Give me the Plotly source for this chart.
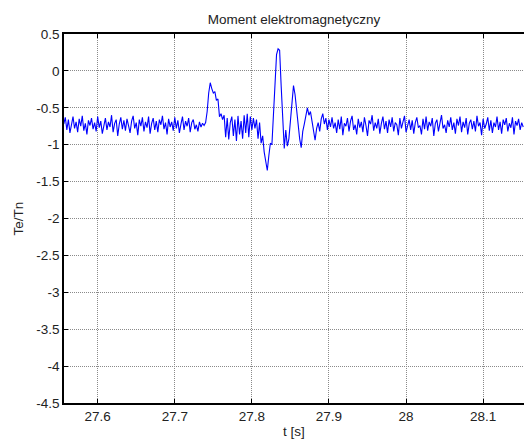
import plotly.graph_objects as go

# Sampling grid
t_start = 27.556
dt = 0.002

# Signal Te/Tn
seg_before = [
    -0.72,-0.63,-0.80,-0.66,-0.84,-0.70,-0.62,-0.78,-0.69,-0.83,
    -0.65,-0.75,-0.61,-0.81,-0.71,-0.86,-0.67,-0.74,-0.64,-0.79,
    -0.70,-0.82,-0.62,-0.77,-0.68,-0.85,-0.73,-0.64,-0.80,-0.69,
    -0.76,-0.60,-0.83,-0.71,-0.66,-0.88,-0.72,-0.63,-0.79,-0.67,
    -0.81,-0.65,-0.74,-0.84,-0.68,-0.61,-0.78,-0.70,-0.87,-0.66,
    -0.75,-0.63,-0.82,-0.69,-0.77,-0.62,-0.85,-0.71,-0.64,-0.80,
    -0.68,-0.83,-0.66,-0.73,-0.61,-0.79,-0.70,-0.86,-0.65,-0.76,
    -0.69,-0.81,-0.63,-0.78,-0.67,-0.84,-0.72,-0.62,-0.80,-0.68,
    -0.75,-0.64,-0.83,-0.70,-0.66,-0.79,-0.73,-0.82,-0.69,-0.76,
    -0.71,-0.74,-0.70,
]
seg_event = [
    -0.55,-0.30,-0.16,-0.24,-0.30,-0.28,-0.40,-0.38,-0.62,-0.58,
    -0.66,-0.60,-0.90,-0.64,-0.93,-0.70,-0.62,-0.88,-0.66,-0.95,
    -0.61,-0.86,-0.68,-0.92,-0.60,-0.84,-0.58,-0.90,-0.62,-0.80,
    -0.64,-0.78,-0.66,-0.92,-0.70,-0.98,-0.88,-1.10,-1.25,-1.35,
    -1.15,-0.98,-1.00,-0.60,-0.10,0.22,0.30,0.28,-0.20,-0.75,
    -1.05,-0.80,-1.02,-0.92,-0.70,-0.45,-0.20,-0.32,-0.55,-0.78,
    -0.92,-1.04,-0.82,-0.72,-0.62,-0.50,-0.60,-0.55,-0.68,-0.80,
    -0.94,-0.78,-0.70,-0.82,-0.65,-0.58,-0.72,-0.64,-0.80,-0.66,
    -0.76,-0.63,-0.78,
]
seg_after = [
    -0.70,-0.84,-0.66,-0.79,-0.62,-0.87,-0.71,-0.75,-0.64,-0.82,
    -0.68,-0.61,-0.80,-0.73,-0.86,-0.65,-0.77,-0.69,-0.83,-0.63,
    -0.74,-0.88,-0.67,-0.72,-0.60,-0.81,-0.70,-0.78,-0.65,-0.85,
    -0.71,-0.62,-0.79,-0.68,-0.84,-0.66,-0.76,-0.63,-0.82,-0.70,
    -0.73,-0.87,-0.64,-0.78,-0.69,-0.61,-0.83,-0.72,-0.66,-0.80,
    -0.67,-0.85,-0.70,-0.63,-0.77,-0.74,-0.86,-0.65,-0.79,-0.62,
    -0.81,-0.69,-0.75,-0.64,-0.88,-0.71,-0.66,-0.82,-0.68,-0.60,
    -0.78,-0.73,-0.84,-0.67,-0.76,-0.63,-0.80,-0.70,-0.85,-0.65,
    -0.74,-0.62,-0.83,-0.69,-0.77,-0.64,-0.86,-0.71,-0.66,-0.79,
    -0.68,-0.82,-0.61,-0.75,-0.70,-0.87,-0.65,-0.78,-0.72,-0.63,
    -0.81,-0.67,-0.84,-0.70,-0.76,-0.62,-0.80,-0.69,-0.85,-0.66,
    -0.73,-0.64,-0.82,-0.71,-0.77,-0.63,-0.86,-0.68,-0.74,-0.65,
    -0.80,-0.70,-0.76,
]
te_tn = seg_before + seg_event + seg_after
t = [t_start + dt * i for i in range(len(te_tn))]

x_ticks = [27.6, 27.7, 27.8, 27.9, 28.0, 28.1]
x_tick_labels = ["27.6", "27.7", "27.8", "27.9", "28", "28.1"]
y_ticks = [0.5, 0, -0.5, -1, -1.5, -2, -2.5, -3, -3.5, -4, -4.5]
y_tick_labels = ["0.5", "0", "-0.5", "-1", "-1.5", "-2", "-2.5", "-3", "-3.5", "-4", "-4.5"]

font = "Liberation Sans, Arial, sans-serif"

fig = go.Figure()
fig.add_trace(go.Scatter(x=t, y=te_tn, mode="lines",
                         line=dict(color="#0000ff", width=1.1), showlegend=False))

fig.update_layout(
    width=524, height=441,
    margin=dict(l=64, r=0, t=34, b=38),
    paper_bgcolor="white", plot_bgcolor="white",
    font=dict(family=font, size=13.5, color="#222"),
    title=dict(text="Moment elektromagnetyczny", x=0.5, xref="paper",
               y=1 - 19 / 441, yref="container", yanchor="middle",
               font=dict(family=font, size=13.5, color="#222")),
)
fig.update_xaxes(
    range=[27.5563, 28.153], tickvals=x_ticks, ticktext=x_tick_labels,
    showgrid=True, gridcolor="#8a8a8a", griddash="1px,1px", gridwidth=1,
    showline=True, linecolor="black", linewidth=1.5, mirror="ticks",
    ticks="inside", ticklen=4, tickcolor="black",
    zeroline=False,
    title=dict(text="t [s]", standoff=4, font=dict(family=font, size=13.5, color="#222")),
)
fig.update_yaxes(
    range=[-4.5, 0.5], tickvals=y_ticks, ticktext=y_tick_labels,
    showgrid=True, gridcolor="#8a8a8a", griddash="1px,1px", gridwidth=1,
    showline=True, linecolor="black", linewidth=1.5, mirror=False,
    ticks="inside", ticklen=4, tickcolor="black",
    zeroline=False,
    title=dict(text="Te/Tn", standoff=10, font=dict(family=font, size=13.5, color="#222")),
)

fig.write_html("out.html")
